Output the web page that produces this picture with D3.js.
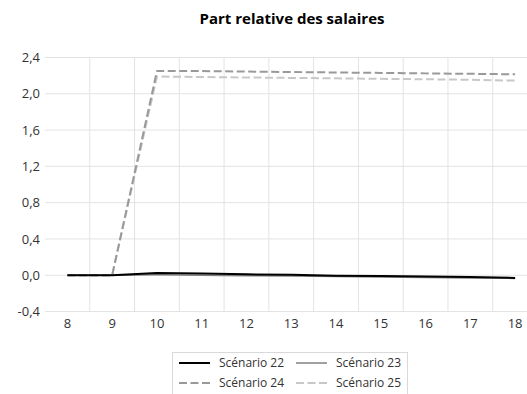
<!DOCTYPE html>
<html><head><meta charset="utf-8">
<script src="https://cdn.jsdelivr.net/npm/d3@7"></script>
<style>body{margin:0;background:#fff}svg{display:block}text{font-family:"Open Sans","Noto Sans",sans-serif}</style>
</head><body>
<svg id="c" width="527" height="394"></svg>
<script>
const categories = ["8","9","10","11","12","13","14","15","16","17","18"];
const s22 = [0,0,0.025,0.02,0.01,0.005,-0.005,-0.01,-0.015,-0.02,-0.03];
const s23 = [0,0,0.005,0,-0.005,-0.01,-0.015,-0.02,-0.025,-0.03,-0.035];
const s24 = [0,0,2.25,2.25,2.245,2.24,2.235,2.23,2.225,2.22,2.215];
const s25 = [0,0,2.19,2.185,2.18,2.175,2.17,2.165,2.16,2.155,2.145];
const seriesNames = ["Scénario 22","Scénario 23","Scénario 24","Scénario 25"];
const yTicks = [-0.4,0,0.4,0.8,1.2,1.6,2.0,2.4];

const series = [
  {name:seriesNames[0], values:s22, color:"#000000", width:2, dash:null},
  {name:seriesNames[1], values:s23, color:"#808080", width:1.5, dash:null},
  {name:seriesNames[2], values:s24, color:"#999999", width:2, dash:"8,3.5"},
  {name:seriesNames[3], values:s25, color:"#c8c8c8", width:2, dash:"8,3.5"}
];

const svg = d3.select("#c");
const x = d3.scaleBand().domain(categories).range([45, 537.5]);
const y = d3.scaleLinear().domain([-0.4, 2.4]).range([311.5, 57.5]);
const cx = d => x(d) + x.bandwidth()/2;

svg.append("g").selectAll("line").data(yTicks).join("line")
  .attr("x1", 45).attr("x2", 537.5)
  .attr("y1", d => y(d)).attr("y2", d => y(d))
  .attr("stroke", "#e3e3e3").attr("stroke-width", 1);
svg.append("g").selectAll("line").data(categories.slice(1)).join("line")
  .attr("x1", d => x(d)).attr("x2", d => x(d))
  .attr("y1", y(2.4)).attr("y2", y(-0.4))
  .attr("stroke", "#e3e3e3").attr("stroke-width", 1);

const yAxis = d3.axisLeft(y).tickValues(yTicks).tickSize(0).tickPadding(0)
  .tickFormat(d => d3.format(".1f")(d).replace(".", ",").replace("−","-"));
const gy = svg.append("g").attr("transform", "translate(40,0)").call(yAxis);
gy.select(".domain").remove();
gy.selectAll("text").attr("font-size", 13).attr("fill", "#333");

const xAxis = d3.axisBottom(x).tickSize(0).tickPadding(0);
const gx = svg.append("g").attr("transform", "translate(0,319)").call(xAxis);
gx.select(".domain").remove();
gx.selectAll("text").attr("font-size", 13).attr("fill", "#333");

const line = d3.line().x((d,i) => cx(categories[i])).y(d => y(d));
[3,2,1,0].forEach(k => {
  const s = series[k];
  svg.append("path").datum(s.values)
    .attr("d", line).attr("fill", "none")
    .attr("stroke", s.color).attr("stroke-width", s.width)
    .attr("stroke-dasharray", s.dash)
    .attr("stroke-linejoin", "round");
});

svg.append("text").attr("x", 292).attr("y", 24).attr("text-anchor", "middle")
  .attr("font-size", 15).attr("font-weight", "bold").attr("fill", "#000")
  .text("Part relative des salaires");

svg.append("rect").attr("x", 172.5).attr("y", 352.5).attr("width", 235).attr("height", 50)
  .attr("fill", "none").attr("stroke", "#d9d9d9");
const pos = [[179,363],[296,363],[179,383],[296,383]];
series.forEach((s, i) => {
  const [lx, ly] = pos[i];
  svg.append("line").attr("x1", lx).attr("x2", lx+31).attr("y1", ly).attr("y2", ly)
    .attr("stroke", s.color).attr("stroke-width", s.width).attr("stroke-dasharray", s.dash);
  svg.append("text").attr("x", lx+40).attr("y", ly).attr("dy", "0.35em")
    .attr("font-size", 12).attr("fill", "#333").text(s.name);
});
</script>
</body></html>
